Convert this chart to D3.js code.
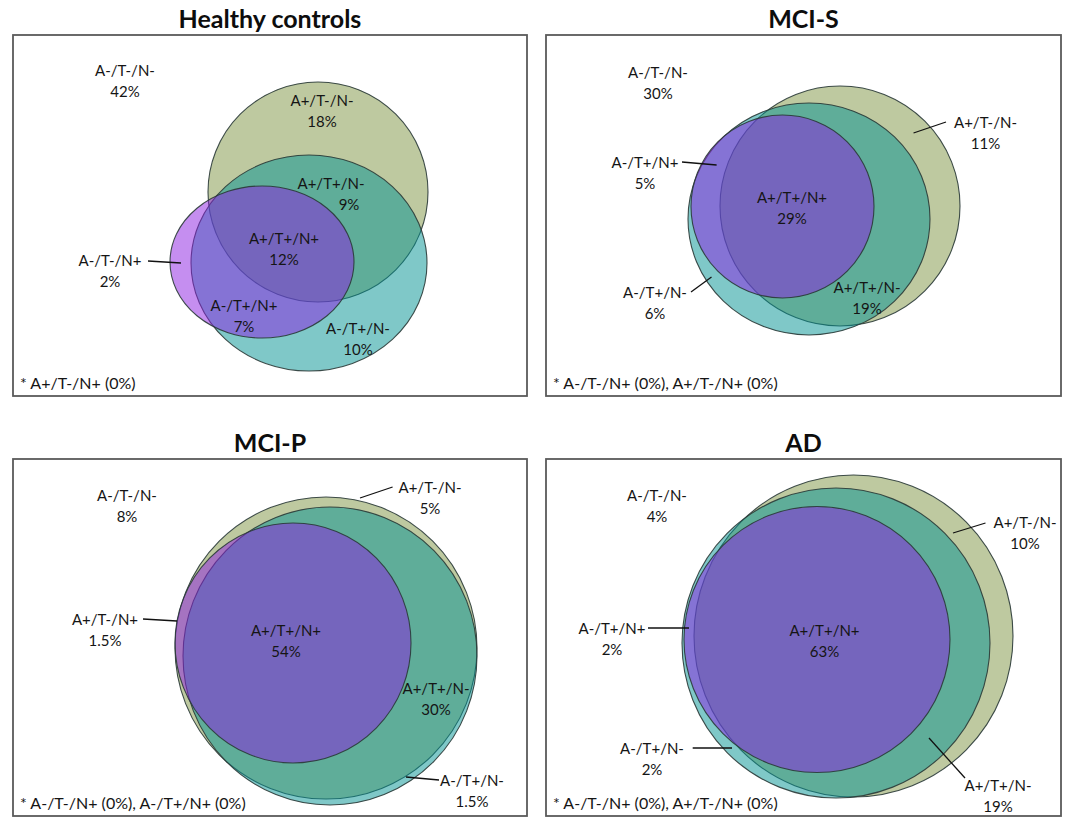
<!DOCTYPE html>
<html>
<head>
<meta charset="utf-8">
<script src="https://cdn.jsdelivr.net/npm/d3@7"></script>
<style>
  body { margin: 0; background: #fff; }
  svg text { font-family: Lato, "Open Sans", sans-serif; fill: #151515; }
</style>
</head>
<body>
<div id="chart"></div>
<script>
// groups and amyloid/tau/neurodegeneration profiles
const groups = ["Healthy controls", "MCI-S", "MCI-P", "AD"]
const profiles = ["A-/T-/N-", "A+/T-/N-", "A+/T+/N-", "A+/T+/N+", "A-/T-/N+", "A-/T+/N+", "A+/T-/N+", "A-/T+/N-"]

// percentages per group, same order as profiles
const healthyPct = [42, 18, 9, 12, 2, 7, 0, 10]
const mciSPct    = [30, 11, 19, 29, 0, 5, 0, 6]
const mciPPct    = [8, 5, 30, 54, 0, 0, 1.5, 1.5]
const adPct      = [4, 10, 19, 63, 0, 2, 0, 2]
const groupPct = [healthyPct, mciSPct, mciPPct, adPct]

// Euler layout of the three sets (A, T, N) in panel-local units
const setNames = ["A", "T", "N"]
const setColors = ["#7d9341", "#009191", "#8b1de1"]
const ellipses = [
    [{cx: 305, cy: 157, rx: 110, ry: 110}, {cx: 296, cy: 228, rx: 118, ry: 108}, {cx: 249, cy: 227, rx: 92, ry: 76}],
    [{cx: 294, cy: 171, rx: 120, ry: 120}, {cx: 263, cy: 184, rx: 121, ry: 116}, {cx: 236.5, cy: 171.5, rx: 91.5, ry: 91.5}],
    [{cx: 313, cy: 189, rx: 151, ry: 151}, {cx: 317, cy: 197, rx: 147, ry: 149}, {cx: 280, cy: 184, rx: 118, ry: 120}],
    [{cx: 307.5, cy: 177, rx: 159.5, ry: 161}, {cx: 290, cy: 184, rx: 154, ry: 155}, {cx: 271, cy: 180.5, rx: 133, ry: 133}]
]

// label placement: profile -> [x, y, pctDx, leader]
const labelPos = [
    {"A-/T-/N-": [112, 35], "A+/T-/N-": [309, 65], "A+/T+/N-": [318, 148, 18], "A+/T+/N+": [271, 203],
     "A-/T-/N+": [97, 225, 0, [135, 226, 168, 228]], "A-/T+/N+": [231, 270], "A-/T+/N-": [345, 293]},
    {"A-/T-/N-": [112, 37], "A+/T-/N-": [439.5, 87, 0, [367.5, 98, 400, 87]], "A-/T+/N+": [99, 127, 0, [136, 127, 170.6, 130]],
     "A+/T+/N+": [246, 162], "A-/T+/N-": [109, 257, 0, [145, 257, 165.5, 242]], "A+/T+/N-": [321, 252]},
    {"A-/T-/N-": [114, 36], "A+/T-/N-": [417, 28, 0, [347, 39, 379.6, 28]], "A+/T-/N+": [92, 160, 0, [130, 160, 164, 162]],
     "A+/T+/N+": [273, 171], "A+/T+/N-": [423, 229], "A-/T+/N-": [459, 321, 0, [393, 318, 426, 321]]},
    {"A-/T-/N-": [111, 36], "A+/T-/N-": [479, 63, 0, [407, 74, 439.5, 64]], "A-/T+/N+": [66, 169, 0, [102, 169, 143, 169]],
     "A+/T+/N+": [278.5, 171], "A-/T+/N-": [106, 289, 0, [146.7, 289, 186, 289]], "A+/T+/N-": [452, 326, 0, [383, 279, 419, 319]]}
]

const boxes = [
    {x: 13, y: 35, w: 514, h: 361},
    {x: 546, y: 35, w: 515, h: 361},
    {x: 13, y: 459, w: 514, h: 357},
    {x: 546, y: 459, w: 515, h: 357}
]

const width = 1067
const height = 819
const svg = d3.select("#chart").append("svg")
    .attr("width", width)
    .attr("height", height)
svg.append("rect").attr("width", width).attr("height", height).attr("fill", "#fff")

groups.forEach((name, i) => {
    const b = boxes[i]
    const x = d3.scaleLinear().domain([0, b.w]).range([b.x, b.x + b.w])
    const y = d3.scaleLinear().domain([0, b.h]).range([b.y, b.y + b.h])
    const g = svg.append("g")

    g.append("text")
        .attr("x", x(b.w / 2))
        .attr("y", b.y - 17)
        .attr("text-anchor", "middle")
        .attr("dominant-baseline", "central")
        .style("font-size", "25px")
        .style("font-weight", "bold")
        .style("fill", "#0d0d0d")
        .text(name)

    g.append("rect")
        .attr("x", x(0)).attr("y", y(0))
        .attr("width", b.w).attr("height", b.h)
        .attr("fill", "none")
        .attr("stroke", "#5a5a5a")
        .attr("stroke-width", 1.8)

    g.selectAll("ellipse").data(ellipses[i]).enter().append("ellipse")
        .attr("cx", d => x(d.cx))
        .attr("cy", d => y(d.cy))
        .attr("rx", d => x(d.rx) - x(0))
        .attr("ry", d => y(d.ry) - y(0))
        .attr("fill", (d, k) => setColors[k])
        .attr("fill-opacity", 0.5)
        .attr("stroke", "#2a3a37")
        .attr("stroke-opacity", 0.9)
        .attr("stroke-width", 1.1)

    const pct = groupPct[i]
    const shown = profiles.map((p, k) => ({p, v: pct[k]})).filter(d => d.v > 0)
    const lab = g.selectAll("g.lab").data(shown).enter().append("g").attr("class", "lab")

    lab.each(function(d) {
        const pos = labelPos[i][d.p]
        const el = d3.select(this)
        el.append("text")
            .attr("x", x(pos[0])).attr("y", y(pos[1]))
            .attr("text-anchor", "middle").attr("dominant-baseline", "central")
            .style("font-size", "15px")
            .text(d.p)
        el.append("text")
            .attr("x", x(pos[0] + (pos[2] || 0))).attr("y", y(pos[1] + 20.5))
            .attr("text-anchor", "middle").attr("dominant-baseline", "central")
            .style("font-size", "15px")
            .text(d.v + "%")
        if (pos[3]) {
            el.append("line")
                .attr("x1", x(pos[3][0])).attr("y1", y(pos[3][1]))
                .attr("x2", x(pos[3][2])).attr("y2", y(pos[3][3]))
                .attr("stroke", "#111").attr("stroke-width", 1.3)
        }
    })

    const zeros = profiles.filter((p, k) => pct[k] === 0).map(p => p + " (0%)")
    g.append("text")
        .attr("x", x(7)).attr("y", y(b.h - 14))
        .attr("dominant-baseline", "central")
        .style("font-size", "16px")
        .text("* " + zeros.join(", "))
})
</script>
</body>
</html>
